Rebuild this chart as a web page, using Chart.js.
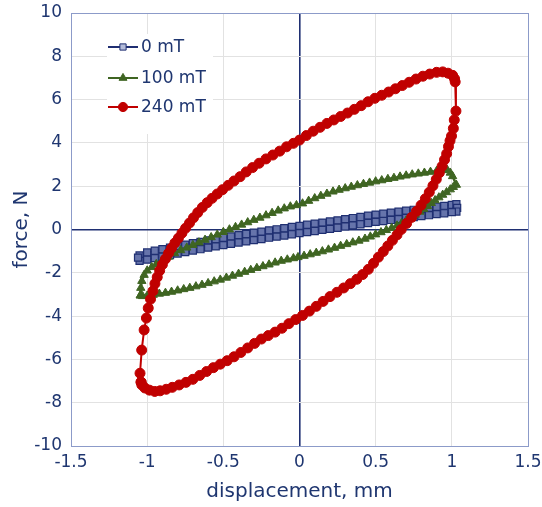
<!DOCTYPE html>
<html>
<head>
<meta charset="utf-8">
<script src="https://cdn.jsdelivr.net/npm/chart.js@4.4.0/dist/chart.umd.min.js"></script>
<style>
  html, body { margin: 0; padding: 0; background: #fff; }
</style>
</head>
<body>
<canvas id="loopChart" width="542" height="507"></canvas>
<script>
// tick labels
const xTickLabels = ['-1.5', '-1', '-0.5', '0', '0.5', '1', '1.5'];
const yTickLabels = ['-10', '-8', '-6', '-4', '-2', '0', '2', '4', '6', '8', '10'];
const seriesNames = ['0 mT', '100 mT', '240 mT'];

// 0 mT loop (displacement mm / force N)
const disp0 = [-1.05, -1.00, -0.95, -0.90, -0.85, -0.80, -0.75, -0.70, -0.65, -0.60, -0.55, -0.50, -0.45, -0.40, -0.35, -0.30, -0.25, -0.20, -0.15, -0.10, -0.05, 0.00, 0.05, 0.10, 0.15, 0.20, 0.25, 0.30, 0.35, 0.40, 0.45, 0.50, 0.55, 0.60, 0.65, 0.70, 0.75, 0.80, 0.85, 0.90, 0.95, 1.00, 1.03, 1.035,
  1.03, 1.00, 0.95, 0.90, 0.85, 0.80, 0.75, 0.70, 0.65, 0.60, 0.55, 0.50, 0.45, 0.40, 0.35, 0.30, 0.25, 0.20, 0.15, 0.10, 0.05, 0.00, -0.05, -0.10, -0.15, -0.20, -0.25, -0.30, -0.35, -0.40, -0.45, -0.50, -0.55, -0.60, -0.65, -0.70, -0.75, -0.80, -0.85, -0.90, -0.95, -1.00, -1.05, -1.06];
const force0 = [-1.20, -1.06, -0.98, -0.91, -0.84, -0.77, -0.70, -0.63, -0.57, -0.50, -0.44, -0.38, -0.32, -0.26, -0.21, -0.15, -0.10, -0.04, 0.01, 0.06, 0.12, 0.17, 0.22, 0.27, 0.32, 0.37, 0.42, 0.48, 0.53, 0.58, 0.64, 0.69, 0.73, 0.78, 0.82, 0.87, 0.91, 0.96, 1.00, 1.05, 1.09, 1.14, 1.17, 1.00,
  0.83, 0.80, 0.75, 0.71, 0.66, 0.62, 0.57, 0.53, 0.48, 0.44, 0.39, 0.35, 0.30, 0.24, 0.19, 0.14, 0.08, 0.03, -0.02, -0.07, -0.12, -0.17, -0.22, -0.28, -0.33, -0.38, -0.44, -0.49, -0.55, -0.60, -0.66, -0.72, -0.78, -0.84, -0.91, -0.97, -1.04, -1.11, -1.18, -1.25, -1.32, -1.39, -1.45, -1.30];

// 100 mT loop
const disp100 = [-1.045, -1.042, -1.035, -1.020, -1.000, -0.970, -0.940, -0.900, -0.860, -0.820, -0.780, -0.740, -0.700, -0.660, -0.620, -0.580, -0.540, -0.500, -0.460, -0.420, -0.380, -0.340, -0.300, -0.260, -0.220, -0.180, -0.140, -0.100, -0.060, -0.020, 0.020, 0.060, 0.100, 0.140, 0.180, 0.220, 0.260, 0.300, 0.340, 0.380, 0.420, 0.460, 0.500, 0.540, 0.580, 0.620, 0.660, 0.700, 0.740, 0.780, 0.820, 0.860, 0.900, 0.940, 0.970, 0.990, 1.005,
  1.030, 1.010, 0.990, 0.965, 0.940, 0.915, 0.890, 0.865, 0.840, 0.815, 0.790, 0.760, 0.730, 0.700, 0.670, 0.640, 0.605, 0.570, 0.535, 0.500, 0.465, 0.430, 0.390, 0.350, 0.310, 0.270, 0.230, 0.190, 0.150, 0.110, 0.070, 0.030, -0.010, -0.040, -0.080, -0.120, -0.160, -0.200, -0.240, -0.280, -0.320, -0.360, -0.400, -0.440, -0.480, -0.520, -0.560, -0.600, -0.640, -0.680, -0.720, -0.760, -0.800, -0.840, -0.880, -0.920, -0.960, -1.000, -1.030, -1.045];
const force100 = [-3.05, -2.70, -2.38, -2.10, -1.90, -1.74, -1.60, -1.42, -1.26, -1.10, -0.96, -0.84, -0.72, -0.60, -0.48, -0.36, -0.24, -0.12, 0.00, 0.11, 0.22, 0.33, 0.44, 0.54, 0.65, 0.76, 0.87, 0.97, 1.06, 1.12, 1.20, 1.32, 1.44, 1.55, 1.65, 1.75, 1.83, 1.90, 1.97, 2.04, 2.10, 2.16, 2.22, 2.27, 2.33, 2.38, 2.44, 2.49, 2.54, 2.58, 2.62, 2.66, 2.70, 2.74, 2.75, 2.62, 2.46,
  2.06, 1.96, 1.85, 1.72, 1.60, 1.48, 1.35, 1.22, 1.08, 0.95, 0.82, 0.68, 0.54, 0.41, 0.29, 0.18, 0.07, -0.03, -0.13, -0.23, -0.33, -0.43, -0.52, -0.60, -0.68, -0.76, -0.85, -0.93, -1.01, -1.08, -1.15, -1.22, -1.28, -1.33, -1.39, -1.45, -1.53, -1.62, -1.70, -1.78, -1.87, -1.96, -2.05, -2.14, -2.23, -2.32, -2.40, -2.48, -2.56, -2.63, -2.70, -2.76, -2.82, -2.88, -2.93, -2.97, -3.02, -3.06, -3.08, -3.05];

// 240 mT loop
const disp240 = [-1.040, -1.047, -1.036, -1.020, -1.005, -0.993, -0.978, -0.962, -0.949, -0.934, -0.918, -0.900, -0.880, -0.860, -0.840, -0.818, -0.795, -0.772, -0.748, -0.722, -0.696, -0.668, -0.638, -0.606, -0.574, -0.540, -0.505, -0.468, -0.430, -0.390, -0.350, -0.308, -0.265, -0.220, -0.175, -0.130, -0.085, -0.040, 0.000, 0.045, 0.090, 0.135, 0.180, 0.225, 0.270, 0.315, 0.360, 0.405, 0.450, 0.495, 0.540, 0.585, 0.630, 0.675, 0.720, 0.765, 0.810, 0.855, 0.900, 0.940, 0.975, 1.005, 1.018, 1.022,
  1.027, 1.016, 1.010, 0.998, 0.988, 0.978, 0.966, 0.952, 0.936, 0.918, 0.898, 0.876, 0.852, 0.826, 0.798, 0.768, 0.736, 0.703, 0.668, 0.640, 0.610, 0.580, 0.550, 0.518, 0.486, 0.452, 0.415, 0.376, 0.334, 0.290, 0.246, 0.200, 0.155, 0.110, 0.065, 0.020, -0.025, -0.070, -0.115, -0.160, -0.205, -0.250, -0.295, -0.340, -0.385, -0.430, -0.475, -0.520, -0.565, -0.610, -0.655, -0.700, -0.745, -0.790, -0.835, -0.875, -0.915, -0.950, -0.985, -1.015, -1.035, -1.040];
const force240 = [-7.05, -6.64, -5.57, -4.64, -4.09, -3.63, -3.22, -2.84, -2.50, -2.20, -1.90, -1.62, -1.36, -1.10, -0.86, -0.62, -0.40, -0.17, 0.06, 0.30, 0.54, 0.78, 1.02, 1.24, 1.44, 1.64, 1.84, 2.04, 2.24, 2.44, 2.66, 2.86, 3.06, 3.26, 3.44, 3.62, 3.82, 3.98, 4.13, 4.34, 4.54, 4.72, 4.90, 5.06, 5.22, 5.38, 5.55, 5.72, 5.90, 6.06, 6.20, 6.35, 6.50, 6.65, 6.80, 6.95, 7.08, 7.18, 7.26, 7.28, 7.22, 7.12, 6.96, 6.82,
  5.47, 5.06, 4.67, 4.32, 4.10, 3.83, 3.50, 3.22, 2.92, 2.62, 2.32, 2.02, 1.72, 1.42, 1.12, 0.84, 0.56, 0.28, 0.00, -0.25, -0.50, -0.76, -1.02, -1.28, -1.56, -1.84, -2.08, -2.30, -2.50, -2.70, -2.90, -3.10, -3.32, -3.55, -3.77, -3.97, -4.16, -4.35, -4.56, -4.74, -4.90, -5.06, -5.26, -5.47, -5.68, -5.88, -6.06, -6.22, -6.38, -6.56, -6.74, -6.92, -7.06, -7.18, -7.29, -7.38, -7.45, -7.48, -7.42, -7.32, -7.18, -7.05];

const NAVY = '#1f2f72';
const TEXT = '#1f3670';
const GREEN = '#3f6522';
const RED = '#c00000';
const GRID = '#e2e2e2';
const FRAME = '#8c9bc9';
const FONT = 'DejaVu Sans';

function toPoints(xs, ys) {
  return xs.map((x, i) => ({ x: x, y: ys[i] }));
}

// legend drawn as a boxed list in the upper left of the plot
const boxLegend = {
  id: 'boxLegend',
  beforeDatasetsDraw(chart) {
    const a = chart.chartArea;
    const ctx = chart.ctx;
    ctx.save();
    ctx.fillStyle = '#fff';
    ctx.fillRect(a.left + 36, a.top + 21, 106, 100);
    ctx.restore();
  },
  afterDatasetsDraw(chart) {
    const a = chart.chartArea;
    const ctx = chart.ctx;
    const x1 = a.left + 37, x2 = a.left + 67;
    const rows = [a.top + 34, a.top + 65, a.top + 94];
    ctx.save();
    chart.data.datasets.forEach(ds => {
      const y = rows[ds.legendRow];
      ctx.strokeStyle = ds.borderColor;
      ctx.lineWidth = 2;
      ctx.beginPath();
      ctx.moveTo(x1, y);
      ctx.lineTo(x2, y);
      ctx.stroke();
      const cx = (x1 + x2) / 2, r = ds.legendRadius;
      ctx.fillStyle = ds.legendFill;
      ctx.strokeStyle = ds.pointBorderColor;
      ctx.lineWidth = 1;
      ctx.beginPath();
      if (ds.pointStyle === 'circle') {
        ctx.arc(cx, y, r, 0, Math.PI * 2);
      } else if (ds.pointStyle === 'triangle') {
        ctx.moveTo(cx, y - r);
        ctx.lineTo(cx + r * 0.866, y + r * 0.5);
        ctx.lineTo(cx - r * 0.866, y + r * 0.5);
        ctx.closePath();
      } else {
        const s = r * Math.SQRT1_2;
        ctx.rect(cx - s, y - s, 2 * s, 2 * s);
      }
      ctx.fill();
      ctx.stroke();
      ctx.fillStyle = TEXT;
      ctx.font = '17px "' + FONT + '"';
      ctx.textBaseline = 'middle';
      ctx.textAlign = 'left';
      ctx.fillText(ds.label, x2 + 3, y + 1);
    });
    ctx.restore();
  }
};

function gridColor(ctx) {
  if (ctx.tick.value === 0) return NAVY;
  if (ctx.index === ctx.scale.ticks.length - 1 || ctx.index === 0) return FRAME;
  return GRID;
}
function gridWidth(ctx) {
  return ctx.tick.value === 0 ? 1.6 : 1;
}
// keep tick-label overflow from shrinking the plot box
function noScalePadding(s) {
  s.paddingTop = 0; s.paddingBottom = 0; s.paddingLeft = 0; s.paddingRight = 0;
}

new Chart(document.getElementById('loopChart'), {
  type: 'scatter',
  data: {
    datasets: [
      {
        label: seriesNames[2], legendRow: 2, order: 1, legendRadius: 4.6, legendFill: RED,
        data: toPoints(disp240, force240),
        showLine: true, borderColor: RED, borderWidth: 2,
        pointStyle: 'circle', pointRadius: 5,
        pointBackgroundColor: RED, pointBorderColor: RED, pointBorderWidth: 1
      },
      {
        label: seriesNames[1], legendRow: 1, order: 2, legendRadius: 4.6, legendFill: GREEN,
        data: toPoints(disp100, force100),
        showLine: true, borderColor: GREEN, borderWidth: 2.5,
        pointStyle: 'triangle', pointRadius: 4.8,
        pointBackgroundColor: GREEN, pointBorderColor: GREEN, pointBorderWidth: 1
      },
      {
        label: seriesNames[0], legendRow: 0, order: 3, legendRadius: 4.4, legendFill: '#b4bcd9',
        data: toPoints(disp0, force0),
        showLine: true, borderColor: NAVY, borderWidth: 1.5,
        pointStyle: 'rect', pointRadius: 5,
        pointBackgroundColor: '#6674ab', pointBorderColor: NAVY, pointBorderWidth: 1.2
      }
    ]
  },
  options: {
    responsive: false,
    animation: false,
    events: [],
    layout: { padding: { left: 0, right: 14, top: 13, bottom: 0 } },
    plugins: { legend: { display: false }, tooltip: { enabled: false } },
    scales: {
      x: {
        type: 'linear', min: -1.5, max: 1.5,
        afterFit: s => { s.height = 61; noScalePadding(s); },
        ticks: {
          stepSize: 0.5, padding: 6, color: TEXT,
          font: { family: FONT, size: 17 },
          callback: (v, i) => xTickLabels[i]
        },
        grid: { color: gridColor, lineWidth: gridWidth, drawTicks: false },
        border: { display: true, color: FRAME, width: 1 },
        title: {
          display: true, text: 'displacement, mm', color: TEXT,
          font: { family: FONT, size: 20 }, padding: { top: 0, bottom: 3 }
        }
      },
      y: {
        type: 'linear', min: -10, max: 10,
        afterFit: s => { s.width = 71; noScalePadding(s); },
        ticks: {
          stepSize: 2, padding: 9, color: TEXT,
          font: { family: FONT, size: 17 },
          callback: (v, i) => yTickLabels[i]
        },
        grid: { color: gridColor, lineWidth: gridWidth, drawTicks: false },
        border: { display: true, color: FRAME, width: 1 },
        title: {
          display: true, text: 'force, N', color: TEXT,
          font: { family: FONT, size: 20 }, padding: { top: 10, bottom: 0 }
        }
      }
    }
  },
  plugins: [boxLegend]
});
</script>
</body>
</html>
